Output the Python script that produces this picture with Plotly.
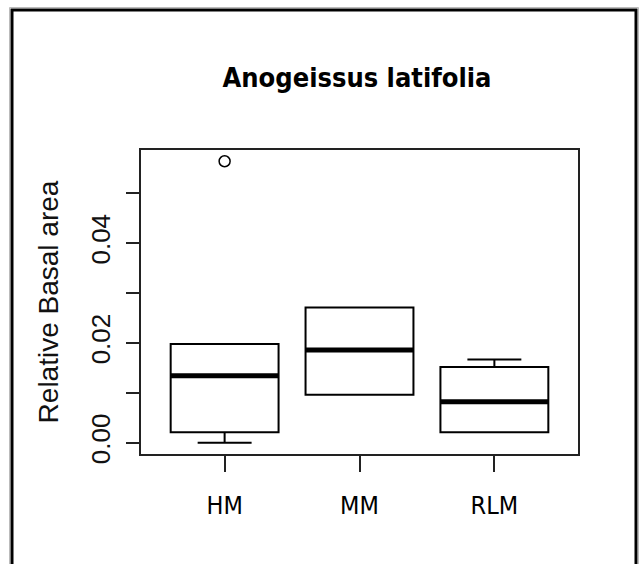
import plotly.graph_objects as go

# Box-plot summary statistics per site (relative basal area)
sites = ["HM", "MM", "RLM"]
positions = [1, 2, 3]
lower_whisker = [0.0000, 0.0096, 0.0021]
q1_values = [0.0021, 0.0096, 0.0021]
medians = [0.0134, 0.0186, 0.0082]
q3_values = [0.0198, 0.0271, 0.0152]
upper_whisker = [0.0198, 0.0271, 0.0167]

# Outlying observations
outlier_pos = [1]
outlier_vals = [0.0564]

y_tick_vals = [0.00, 0.01, 0.02, 0.03, 0.04, 0.05]
y_tick_text = ["0.00", "", "0.02", "", "0.04", ""]

title_text = "Anogeissus latifolia"
y_title = "Relative Basal area"

BOX_WIDTH = 0.8
W, H = 641, 564
L, R, T, B = 141, 63, 150, 110

fig = go.Figure()

for pos, lo, a, m, b, hi in zip(positions, lower_whisker, q1_values, medians,
                               q3_values, upper_whisker):
    fig.add_trace(go.Box(
        x=[pos], q1=[a], median=[m], q3=[b],
        lowerfence=[lo], upperfence=[hi],
        width=BOX_WIDTH, whiskerwidth=0.5,
        fillcolor="white", line=dict(color="black", width=2),
        boxpoints=False, showlegend=False, hoverinfo="skip",
    ))
    # heavy median bar, as in base R boxplots
    fig.add_trace(go.Scatter(
        x=[pos - BOX_WIDTH / 2, pos + BOX_WIDTH / 2], y=[m, m],
        mode="lines", line=dict(color="black", width=5),
        showlegend=False, hoverinfo="skip",
    ))

fig.add_trace(go.Scatter(
    x=outlier_pos, y=outlier_vals, mode="markers",
    marker=dict(symbol="circle-open", size=11, color="black",
                line=dict(width=1.5, color="black")),
    showlegend=False, hoverinfo="skip",
))

# axis limits padded by 4% like R's default "r" style
all_vals = lower_whisker + upper_whisker + outlier_vals
ymin, ymax = min(all_vals), max(all_vals)
pad = 0.04 * (ymax - ymin)
xmin, xmax = min(positions) - 0.5, max(positions) + 0.5
xpad = 0.04 * (xmax - xmin)

narrow = "DejaVu Sans Condensed, Liberation Sans Narrow, Roboto, sans-serif"
regular = "Liberation Sans, Arial, sans-serif"

fig.update_layout(
    width=W, height=H,
    margin=dict(l=L, r=R, t=T, b=B, pad=0),
    paper_bgcolor="white", plot_bgcolor="white",
    title=dict(text="<b>%s</b>" % title_text, x=357 / W,
               xanchor="center", y=1 - 78 / H, yanchor="middle",
               yref="container",
               font=dict(family=narrow, size=27, color="black")),
    xaxis=dict(range=[xmin - xpad, xmax + xpad], tickvals=positions,
               ticktext=sites, ticks="outside", ticklen=16, tickwidth=1.5,
               tickcolor="#222", showline=True, linecolor="#222",
               linewidth=2, mirror=True, showgrid=False, zeroline=False,
               ticklabelstandoff=12,
               tickfont=dict(family=narrow, size=25, color="black")),
    yaxis=dict(range=[ymin - pad, ymax + pad], tickvals=y_tick_vals,
               ticktext=y_tick_text, ticks="outside", ticklen=13,
               tickwidth=1.5, tickcolor="#222", showline=True,
               linecolor="#222", linewidth=2, mirror=True, showgrid=False,
               zeroline=False, tickangle=-90, ticklabelstandoff=6,
               tickfont=dict(family=regular, size=26, color="#111"),
               title=dict(text=y_title, standoff=19,
                          font=dict(family=regular, size=28, color="#111"))),
)

# outer frame around the whole graphic
def px_to_paper_x(px):
    return (px - L) / (W - L - R)

def px_to_paper_y(py):
    return (H - B - py) / (H - T - B)

fig.add_shape(type="rect", xref="paper", yref="paper",
              x0=px_to_paper_x(9.5), x1=px_to_paper_x(638.5),
              y0=px_to_paper_y(600), y1=px_to_paper_y(7.5),
              line=dict(color="#bbbbbb", width=1), layer="below")
fig.add_shape(type="rect", xref="paper", yref="paper",
              x0=px_to_paper_x(12), x1=px_to_paper_x(636),
              y0=px_to_paper_y(600), y1=px_to_paper_y(10),
              line=dict(color="black", width=3), layer="below")

fig.write_html("out.html")
